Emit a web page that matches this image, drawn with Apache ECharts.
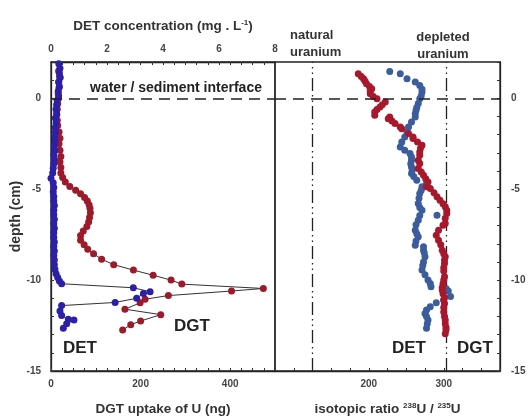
<!DOCTYPE html>
<html>
<head>
<meta charset="utf-8">
<script src="https://cdn.jsdelivr.net/npm/echarts@6/dist/echarts.min.js"></script>
<style>
  html, body { margin: 0; padding: 0; background: #fff; }
  #chart { width: 529px; height: 419px; }
</style>
</head>
<body>
<div id="chart"></div>
<script>
// DET (left panel, top axis): depth (cm) vs concentration (mg/L)
const depthDetLeft = [1.9, 1.65, 1.4, 1.15, 0.9, 0.65, 0.4, 0.15, -0.1, -0.35, -0.6, -0.85, -1.1, -1.35, -1.6, -1.85,
  -2.1, -2.35, -2.6, -2.85, -3.1, -3.35, -3.6, -3.85, -4.1, -4.4, -4.65, -4.9, -5.15, -5.4, -5.65, -5.9, -6.15, -6.4,
  -6.65, -6.9, -7.15, -7.4, -7.65, -7.9, -8.15, -8.4, -8.65, -8.9, -9.15, -9.4, -9.65, -9.85, -10.05, -10.2,
  -10.42, -10.64, -10.73, -11.0, -11.23, -11.4, -11.7, -11.95, -12.15, -12.2, -12.4, -12.65];
const concDetLeft = [0.28, 0.32, 0.3, 0.33, 0.28, 0.3, 0.26, 0.27, 0.22, 0.2, 0.18, 0.2, 0.16, 0.18, 0.15, 0.16,
  0.13, 0.15, 0.12, 0.14, 0.1, 0.12, 0.1, 0.08, 0.06, 0.0, 0.08, 0.1, 0.08, 0.1, 0.1, 0.12, 0.1, 0.1,
  0.12, 0.1, 0.12, 0.1, 0.1, 0.12, 0.1, 0.12, 0.1, 0.12, 0.12, 0.14, 0.18, 0.24, 0.3, 0.38,
  2.94, 3.54, 3.3, 3.06, 2.29, 0.38, 0.32, 0.38, 0.62, 0.82, 0.56, 0.44];

// DGT (left panel, bottom axis): depth (cm) vs uptake of U (ng)
const depthDgtLeft = [1.5, 1.2, 0.9, 0.6, 0.3, 0.0, -0.3, -0.6, -0.9, -1.2, -1.5, -1.85, -2.2, -2.5, -2.85, -3.2,
  -3.5, -3.8, -4.1, -4.35, -4.6, -4.85, -5.05, -5.25, -5.45, -5.65, -5.85, -6.05, -6.3, -6.55, -6.8, -7.05, -7.3,
  -7.55, -7.8, -8.05, -8.3, -8.55, -8.85, -9.15, -9.45, -9.73, -10.0, -10.22, -10.46, -10.6, -10.85, -11.05,
  -11.25, -11.6, -11.9, -12.25, -12.45, -12.75];
const uptakeDgtLeft = [17, 19, 17, 18, 16, 17, 15, 14, 13, 14, 15, 18, 20, 18, 20, 22,
  20, 22, 22, 26, 32, 42, 55, 66, 75, 81, 85, 87, 88, 86, 84, 80, 72,
  66, 66, 74, 82, 95, 113, 140, 184, 228, 268, 292, 474, 403, 262, 210,
  199, 165, 245, 200, 178, 160];

// isotopic ratio 238U/235U (right panel)
const depthDetRatio = [1.48, 1.36, 1.08, 0.9, 0.71, 0.5, 0.35, 0.15, -0.02, -0.29, -0.5, -0.66, -0.85, -1.03, -1.3,
  -1.58, -1.85, -2.13, -2.4, -2.68, -2.85, -3.04, -3.22, -3.4, -3.6, -3.77, -3.95, -4.14, -4.3, -4.5, -4.69, -4.87,
  -5.05, -5.24, -5.5, -5.79, -6.0, -6.15, -6.43, -6.45, -6.7, -6.95, -7.25, -7.45, -7.62, -7.85, -8.08, -8.17,
  -8.35, -8.5, -8.72, -9.0, -9.2, -9.45, -9.7, -10.0, -10.18, -10.37, -10.46, -10.6, -10.9, -11.1, -11.25,
  -11.47, -11.65, -11.83, -12.0, -12.2, -12.4, -12.65];
const ratioDet = [228, 242, 251, 262, 268, 271, 271, 270, 268, 266, 264, 263, 262, 262, 257,
  253, 251, 248, 244, 242, 248, 255, 257, 257, 256, 257, 258, 257, 260, 264, 277, 271,
  270, 268, 267, 266, 268, 271, 291, 268, 266, 263, 262, 264, 266, 263, 262, 273,
  273, 274, 275, 273, 272, 271, 275, 279, 282, 283, 303, 306, 309, 300, 290,
  282, 277, 275, 277, 279, 278, 277];

const depthDgtRatio = [1.36, 1.2, 1.08, 0.95, 0.81, 0.65, 0.53, 0.4, 0.26, 0.1, -0.02, -0.2, -0.35, -0.48, -0.62,
  -0.75, -0.93, -1.03, -1.12, -1.25, -1.39, -1.58, -1.67, -1.94, -2.13, -2.21, -2.4, -2.58, -2.75, -2.95, -3.13,
  -3.4, -3.59, -3.86, -4.05, -4.23, -4.42, -4.6, -4.87, -4.96, -5.2, -5.42, -5.6, -5.8, -5.97, -6.15, -6.34,
  -6.6, -6.88, -6.98, -7.25, -7.53, -7.8, -8.05, -8.35, -8.55, -8.72, -8.9, -9.08, -9.3, -9.5, -9.82, -10.0,
  -10.2, -10.4, -10.55, -10.75, -10.95, -11.1, -11.28, -11.5, -11.75, -12.0, -12.2, -12.4, -12.6, -12.75, -12.95];
const ratioDgt = [186, 190, 193, 195, 197, 201, 204, 202, 202, 206, 211, 222, 218, 215, 211,
  208, 208, 228, 226, 231, 235, 242, 244, 253, 259, 259, 265, 271, 269, 268, 268,
  266, 268, 266, 270, 273, 276, 279, 277, 282, 287, 291, 295, 299, 302, 304, 304,
  302, 302, 299, 293, 290, 293, 296, 298, 300, 302, 301, 301, 300, 300, 301, 300,
  299, 298, 298, 299, 301, 300, 301, 300, 300, 301, 302, 302, 303, 303, 302];

const naturalRatio = 124;
const depletedRatio = 303;

const concTicks = [0, 2, 4, 6, 8];
const uptakeTicks = [0, 200, 400];
const ratioTicks = [200, 300];
const depthTicks = [-15, -10, -5, 0];

const font = "'Liberation Sans', Arial, sans-serif";

function pairs(ys, xs) {
  return ys.map((d, i) => [xs[i], d]);
}
function onlyTicks(list) {
  return function (v) {
    for (let i = 0; i < list.length; i++) {
      if (Math.abs(v - list[i]) < 1e-6) return String(list[i]);
    }
    return '';
  };
}

const tickLabel = { fontSize: 10, fontWeight: 'bold', color: '#444', fontFamily: font };
const tick = { show: true, inside: true, length: 3, lineStyle: { color: '#333', width: 1 } };
const axLine = { show: true, onZero: false, lineStyle: { color: '#222', width: 1.3 } };
const nameStyle = {
  fontSize: 13.5, fontWeight: 'bold', color: '#333', fontFamily: font,
  rich: { sup: { fontSize: 8, fontWeight: 'bold', color: '#333', verticalAlign: 'top', lineHeight: 14, fontFamily: font } }
};
const dashLine = { color: '#222', width: 1.6, type: [11, 7] };

let myChart = echarts.init(document.getElementById('chart'));

let option = {
  animation: false,
  backgroundColor: '#fff',
  grid: [
    { left: 51, top: 62, width: 224, height: 309, show: true, borderColor: '#222', borderWidth: 1.3, outerBoundsMode: 'none' },
    { left: 275, top: 62, width: 225, height: 309, show: true, borderColor: '#222', borderWidth: 1.3, outerBoundsMode: 'none' }
  ],
  xAxis: [
    {
      gridIndex: 0, type: 'value', position: 'bottom', min: 0, max: 500, interval: 25,
      name: 'DGT uptake of U (ng)', nameLocation: 'middle', nameGap: 31, nameTextStyle: nameStyle,
      axisLine: axLine, axisTick: tick, splitLine: { show: false },
      axisLabel: Object.assign({ margin: 8, interval: 0, formatter: onlyTicks(uptakeTicks) }, tickLabel)
    },
    {
      gridIndex: 0, type: 'value', position: 'top', min: 0, max: 8, interval: 0.4,
      name: 'DET concentration (mg . L{sup|-1})', nameLocation: 'middle', nameGap: 29, nameTextStyle: nameStyle,
      axisLine: axLine, axisTick: tick, splitLine: { show: false },
      axisLabel: Object.assign({ margin: 8, interval: 0, formatter: onlyTicks(concTicks) }, tickLabel)
    },
    {
      gridIndex: 1, type: 'value', position: 'bottom', min: 75, max: 375, interval: 25,
      name: 'isotopic ratio {sup|238}U / {sup|235}U', nameLocation: 'middle', nameGap: 31, nameTextStyle: nameStyle,
      axisLine: axLine, axisTick: tick, splitLine: { show: false },
      axisLabel: Object.assign({ margin: 8, interval: 0, formatter: onlyTicks(ratioTicks) }, tickLabel)
    }
  ],
  yAxis: [
    {
      gridIndex: 0, type: 'value', position: 'left', min: -15, max: 2, interval: 1,
      name: 'depth (cm)', nameLocation: 'middle', nameGap: 26, nameRotate: 90,
      nameTextStyle: Object.assign({}, nameStyle, { fontSize: 14 }),
      axisLine: axLine, axisTick: tick, splitLine: { show: false },
      axisLabel: Object.assign({ margin: 10, formatter: onlyTicks(depthTicks) }, tickLabel)
    },
    {
      gridIndex: 1, type: 'value', position: 'right', min: -15, max: 2, interval: 1,
      axisLine: axLine, axisTick: tick, splitLine: { show: false },
      axisLabel: Object.assign({ margin: 11, formatter: onlyTicks(depthTicks) }, tickLabel)
    }
  ],
  series: [
    {
      name: 'DGT', type: 'line', xAxisIndex: 0, yAxisIndex: 0,
      data: pairs(depthDgtLeft, uptakeDgtLeft),
      symbol: 'circle', symbolSize: 7,
      itemStyle: { color: '#9c1b2b' },
      lineStyle: { color: '#333', width: 1 },
      markLine: {
        silent: true, symbol: 'none', label: { show: false },
        lineStyle: dashLine,
        data: [{ yAxis: 0 }]
      }
    },
    {
      name: 'DET', type: 'line', xAxisIndex: 1, yAxisIndex: 0,
      data: pairs(depthDetLeft, concDetLeft),
      symbol: 'circle', symbolSize: 7,
      itemStyle: { color: '#2c20a6' },
      lineStyle: { color: '#333', width: 1 }
    },
    {
      name: 'DET ratio', type: 'scatter', xAxisIndex: 2, yAxisIndex: 1,
      data: pairs(depthDetRatio, ratioDet),
      symbol: 'circle', symbolSize: 7,
      itemStyle: { color: '#3c5d9c', opacity: 1 },
      markLine: {
        silent: true, symbol: 'none', label: { show: false },
        lineStyle: dashLine,
        data: [{ yAxis: 0 }]
      }
    },
    {
      name: 'DGT ratio', type: 'scatter', xAxisIndex: 2, yAxisIndex: 1,
      data: pairs(depthDgtRatio, ratioDgt),
      symbol: 'circle', symbolSize: 7,
      itemStyle: { color: '#a8182c', opacity: 1 },
      markLine: {
        silent: true, symbol: 'none', label: { show: false }, z: 1,
        lineStyle: { color: '#222', width: 1.3, type: [13, 4, 1.5, 4, 1.5, 4] },
        data: [{ xAxis: naturalRatio }, { xAxis: depletedRatio }]
      }
    }
  ],
  graphic: [
    { type: 'text', x: 176, y: 88, style: { text: 'water / sediment interface', font: 'bold 14px ' + font, fill: '#222', align: 'center', verticalAlign: 'middle' } },
    { type: 'text', x: 290, y: 44, style: { text: 'natural\nuranium', font: 'bold 13px ' + font, fill: '#333', align: 'left', verticalAlign: 'middle', lineHeight: 17 } },
    { type: 'text', x: 443, y: 46, style: { text: 'depleted\nuranium', font: 'bold 13px ' + font, fill: '#333', align: 'center', verticalAlign: 'middle', lineHeight: 17 } },
    { type: 'text', x: 80, y: 348, style: { text: 'DET', font: 'bold 17px ' + font, fill: '#222', align: 'center', verticalAlign: 'middle' } },
    { type: 'text', x: 192, y: 326, style: { text: 'DGT', font: 'bold 17px ' + font, fill: '#222', align: 'center', verticalAlign: 'middle' } },
    { type: 'text', x: 409, y: 348, style: { text: 'DET', font: 'bold 17px ' + font, fill: '#222', align: 'center', verticalAlign: 'middle' } },
    { type: 'text', x: 475, y: 348, style: { text: 'DGT', font: 'bold 17px ' + font, fill: '#222', align: 'center', verticalAlign: 'middle' } }
  ]
};

myChart.setOption(option);
</script>
</body>
</html>
